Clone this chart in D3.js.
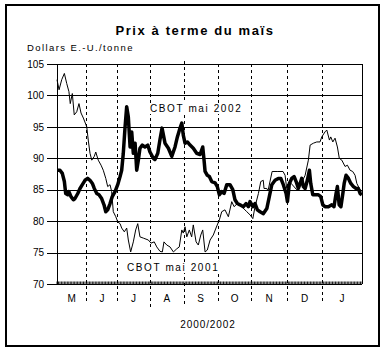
<!DOCTYPE html>
<html>
<head>
<meta charset="utf-8">
<script src="https://cdn.jsdelivr.net/npm/d3@7"></script>
<style>
  body { margin: 0; background: #fff; }
  text { font-family: "Liberation Sans", Arial, sans-serif; fill: #000; }
</style>
</head>
<body>
<div id="chart"></div>
<script>
// month labels and approximate trading sessions in each month
var monthLabels = ['M', 'J', 'J', 'A', 'S', 'O', 'N', 'D', 'J'];
var monthSessions = [20, 21, 22, 23, 23, 23, 24, 24, 27];
var yTicks = [70, 75, 80, 85, 90, 95, 100, 105];

// [session, price]
var may2001 = [
  [0, 102.5], [1.4, 100.9], [3.2, 102.5], [5, 103.5], [6.6, 101.9], [8.1, 100.6], [9, 98.7],
  [10.4, 100.3], [11.7, 96.9], [13.4, 97.4], [14.9, 98.7], [16.3, 97.2], [17.9, 96.4], [20.2, 95.0],
  [21.2, 92.9], [22.4, 90.8], [23.6, 89.7], [25.3, 90.3], [26.3, 91.0], [28, 89.7], [29.9, 88.9],
  [31.4, 88.1], [33.1, 86.8], [34.4, 85.5], [36, 85.8], [37.1, 84.7], [38.2, 81.5], [39.9, 80.7],
  [41.2, 79.9], [42.8, 79.6], [43.9, 78.9], [45.7, 78.3], [47.3, 78.9], [48.4, 77.0], [50, 75.1],
  [51.8, 76.7], [53.4, 78.6], [54.8, 79.6], [56.3, 77.5], [58.6, 77.3], [62, 77.0], [63.8, 76.5],
  [66, 76.7], [67.7, 75.9], [69.9, 75.2], [71.5, 75.1], [72.6, 76.7], [74.5, 76.2], [76.7, 75.9],
  [79, 75.1], [81.3, 75.6], [83, 75.9], [84.7, 78.6], [85.7, 78.1], [86.9, 79.1], [88.1, 77.5],
  [89.8, 78.6], [91.4, 77.5], [92.5, 79.4], [94.4, 76.7], [95.9, 76.2], [97.6, 77.8], [98.9, 78.6],
  [100.5, 75.1], [102, 75.4], [103.9, 77.0], [106.1, 77.8], [107.9, 78.9], [110.2, 80.2],
  [111.8, 81.5], [114, 81.8], [116.3, 80.7], [118.6, 83.1], [120.2, 82.3], [122.4, 82.8],
  [125.4, 82.3], [128.8, 81.5], [131, 81.0], [132.9, 80.4], [134.4, 82.3], [136.7, 84.4],
  [138.3, 86.3], [140, 86.5], [140.5, 85.2], [142.4, 85.2], [143.2, 84.8], [146, 87.9],
  [149.4, 87.9], [153.4, 87.9], [154.8, 87.3], [155.9, 85.2], [158.9, 86.0], [162.7, 85.0],
  [165, 85.6], [168.4, 87.3], [170.6, 89.7], [171.8, 92.1], [174, 92.4], [176.3, 92.6],
  [178.5, 92.6], [179.7, 93.4], [181.9, 94.2], [183.1, 94.5], [184.9, 92.9], [185.8, 93.4],
  [187.2, 92.6], [188.7, 93.2], [190.3, 91.8], [191.6, 90.0], [193.3, 89.7], [195.5, 88.7],
  [197.1, 88.9], [198.9, 88.1], [200.7, 87.9], [202.3, 87.3], [203.5, 86.0], [205.2, 85.2],
  [206.9, 84.7]
];

var may2002 = [
  [0, 88.1], [2, 88.1], [3.6, 87.6], [5, 86.3], [5.9, 84.4], [7.3, 84.2], [8.1, 84.7], [9.5, 83.9],
  [11.1, 83.4], [12.2, 83.6], [14.1, 84.4], [15.6, 85.2], [17.2, 85.8], [19, 86.5], [20.8, 86.8],
  [22.4, 86.5], [24, 86.0], [25.3, 85.2], [27, 84.4], [28.5, 84.2], [30.3, 83.6], [31.9, 82.6],
  [33.1, 81.5], [34.4, 81.8], [36, 82.8], [37.5, 83.9], [39.4, 84.7], [41.2, 85.8], [42.8, 87.1],
  [43.9, 88.1], [45, 90.8], [46.2, 95.0], [47.3, 98.2], [48.4, 96.6], [49.6, 91.8], [50.7, 94.2],
  [51.8, 90.8], [53, 92.4], [54.1, 88.1], [55.2, 89.7], [56.3, 91.6], [57.9, 92.1], [59.7, 91.8],
  [61.6, 92.1], [63.1, 91.0], [65.4, 90.0], [66.5, 89.8], [68.4, 90.8], [69.9, 93.0], [71.3, 94.8],
  [73.3, 92.4], [75.6, 91.6], [77.9, 90.3], [80.1, 91.8], [81.7, 93.4], [83.5, 94.8], [84.7, 95.6],
  [85.7, 93.7], [86.9, 92.4], [88.5, 92.6], [90.3, 92.1], [92.5, 91.6], [94.8, 90.8], [97.1, 90.6],
  [98.9, 91.8], [99.8, 89.7], [100.5, 87.9], [102, 87.3], [103.4, 87.1], [105, 86.3], [107.3, 86.1],
  [108.8, 85.5], [110.2, 84.2], [111.8, 84.7], [113.4, 84.4], [115.2, 85.8], [117.4, 85.8],
  [119.3, 85.0], [120.8, 83.4], [122.4, 82.8], [124.2, 82.6], [126.5, 82.3], [128.3, 82.8],
  [129.9, 82.3], [131, 83.1], [132.9, 82.3], [134.4, 82.8], [136, 81.8], [137.8, 81.5],
  [140.1, 81.2], [142.4, 82.0], [144.1, 83.9], [145.8, 85.8], [148, 86.5], [150.2, 86.8],
  [151.9, 86.8], [153.6, 85.8], [155.5, 84.4], [156.4, 83.1], [157.7, 86.0], [159.3, 86.8],
  [160.9, 87.1], [162.3, 86.3], [163.8, 85.2], [165, 86.0], [166.1, 86.8], [167.2, 85.5],
  [168.4, 85.2], [169.9, 86.5], [171.3, 88.1], [172.2, 86.0], [173.6, 84.2], [175.2, 84.2],
  [177.4, 84.2], [179, 83.9], [180.4, 82.6], [181.9, 82.3], [184.2, 82.3], [186.5, 82.6],
  [188, 82.3], [189.4, 84.4], [190.3, 85.5], [191.5, 82.6], [192.7, 82.3], [194, 84.4],
  [194.9, 86.0], [196.2, 87.3], [197.8, 86.8], [199.4, 86.0], [201.2, 85.5], [203, 85.2],
  [204.5, 85.2], [205.7, 84.4], [206.9, 84.2]
];

var W = 384, H = 351;
var margin = {top: 64, right: 22, bottom: 67, left: 57};

var svg = d3.select("#chart").append("svg")
    .attr("width", W)
    .attr("height", H);

// outer frame
svg.append("rect")
    .attr("x", 6).attr("y", 5)
    .attr("width", 373).attr("height", 341)
    .attr("fill", "none").attr("stroke", "#000").attr("stroke-width", 2);

var total = d3.sum(monthSessions);
var x = d3.scaleLinear().domain([0, total]).range([margin.left, W - margin.right]);
var y = d3.scaleLinear().domain([70, 105]).range([H - margin.bottom, margin.top]);

// month boundaries
var bounds = [0];
monthSessions.forEach(function(n, i) { bounds.push(bounds[i] + n); });

// horizontal grid + y labels
svg.append("g")
    .attr("transform", "translate(" + x.range()[1] + ",0)")
    .call(d3.axisLeft(y).tickValues(yTicks).tickSize(x.range()[1] - 47).tickPadding(3))
    .call(function(g) {
      g.select(".domain").remove();
      g.selectAll("line").attr("stroke", "#000").attr("shape-rendering", "crispEdges");
      g.selectAll("text").style("font-size", "10px").style("font-family", "'Liberation Sans', Arial, sans-serif");
    });

// plot box sides
svg.append("g").selectAll("line")
    .data([x.range()[0], x.range()[1]])
    .enter().append("line")
    .attr("x1", function(d) { return d; }).attr("x2", function(d) { return d; })
    .attr("y1", y(105)).attr("y2", y(70))
    .attr("stroke", "#000").attr("shape-rendering", "crispEdges");

// dashed month separators
svg.append("g").selectAll("line")
    .data(bounds.slice(1, -1))
    .enter().append("line")
    .attr("x1", function(d) { return Math.round(x(d)) + 0.5; })
    .attr("x2", function(d) { return Math.round(x(d)) + 0.5; })
    .attr("y1", function(d, i) { return i === 3 ? y(105) - 3 : y(105); })
    .attr("y2", function(d, i) { return i === 2 ? y(70) + 26 : y(70) + 20; })
    .attr("stroke", "#000")
    .attr("stroke-dasharray", "3,3");

// session ticks along bottom axis
svg.append("g").selectAll("line")
    .data(d3.range(0, total + 1))
    .enter().append("line")
    .attr("x1", function(d) { return x(d); }).attr("x2", function(d) { return x(d); })
    .attr("y1", y(70)).attr("y2", y(70) - 2.5)
    .attr("stroke", "#000").attr("stroke-width", 0.9);

// month labels
svg.append("g").selectAll("text")
    .data(monthLabels)
    .enter().append("text")
    .attr("x", function(d, i) { return x((bounds[i] + bounds[i + 1]) / 2); })
    .attr("y", y(70) + 18)
    .attr("text-anchor", "middle")
    .style("font-size", "10px")
    .text(function(d) { return d; });

var line = d3.line()
    .x(function(d) { return x(d[0]); })
    .y(function(d) { return y(d[1]); });

svg.append("path")
    .datum(may2001)
    .attr("d", line)
    .attr("fill", "none")
    .attr("stroke", "#000")
    .attr("stroke-width", 1);

svg.append("path")
    .datum(may2002)
    .attr("d", line)
    .attr("fill", "none")
    .attr("stroke", "#000")
    .attr("stroke-width", 3.5)
    .attr("stroke-linejoin", "round");

// series labels sit on a white patch that hides the dashes
function seriesLabel(tx, ty, label) {
  var g = svg.append("g");
  var bg = g.append("rect").attr("fill", "#fff");
  var t = g.append("text")
      .attr("x", tx).attr("y", ty)
      .style("font-size", "10px").style("letter-spacing", "1.6px")
      .text(label);
  var b = t.node().getBBox();
  bg.attr("x", b.x - 2).attr("y", b.y).attr("width", b.width + 3).attr("height", b.height);
}
seriesLabel(150, 112, "CBOT mai 2002");
seriesLabel(127, 271, "CBOT mai 2001");

// texts
svg.append("text")
    .attr("x", 195).attr("y", 35)
    .attr("text-anchor", "middle")
    .style("font-size", "13px").style("font-weight", "bold").style("letter-spacing", "1.6px")
    .text("Prix à terme du maïs");

svg.append("text")
    .attr("x", 27).attr("y", 51)
    .style("font-size", "9.5px").style("letter-spacing", "1.4px")
    .text("Dollars E.-U./tonne");

svg.append("text")
    .attr("x", 208).attr("y", 328)
    .attr("text-anchor", "middle")
    .style("font-size", "10px").style("letter-spacing", "0.9px")
    .text("2000/2002");
</script>
</body>
</html>
